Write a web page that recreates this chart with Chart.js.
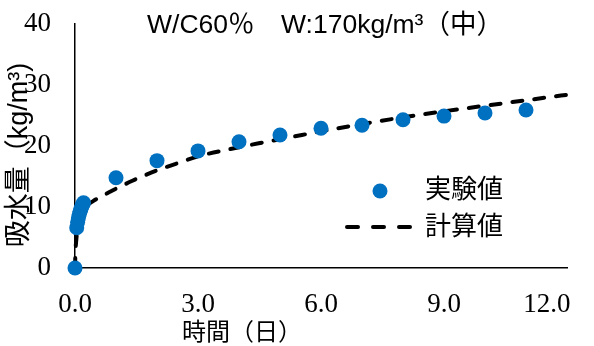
<!DOCTYPE html>
<html><head><meta charset="utf-8">
<script src="https://cdn.jsdelivr.net/npm/chart.js@4/dist/chart.umd.min.js"></script>
<style>html,body{margin:0;padding:0;background:#fff;} #wrap{width:594px;height:346px;}</style>
</head><body><div id="wrap"><canvas id="c" width="594" height="346"></canvas></div>
<script>
const chartTitle = 'W/C60％　W:170kg/m³（中）';
const xAxisTitle = '時間（日）';
const yAxisTitle = '吸水量（kg/m³)';
const seriesNames = ['実験値', '計算値'];
const xTicks = [0, 3, 6, 9, 12];
const yTicks = [0, 10, 20, 30, 40];
const expDays   = [0, 0.042, 0.063, 0.083, 0.104, 0.125, 0.146, 0.167, 0.188, 0.208, 1, 2, 3, 4, 5, 6, 7, 8, 9, 10, 11];
const expValues = [0, 6.6, 7.5, 8.2, 8.8, 9.3, 9.7, 10.1, 10.4, 10.7, 14.8, 17.6, 19.2, 20.7, 21.8, 22.9, 23.4, 24.3, 24.9, 25.4, 25.9];
const calcDays   = [0, 0.01, 0.03, 0.06, 0.1, 0.15, 0.2, 0.3, 0.45, 0.6, 0.8, 1, 1.4, 2, 2.6, 3, 4, 4.6, 5.3, 6, 7, 8, 8.8, 10, 11, 12];
const calcValues = [0, 2.5, 4.5, 6.3, 7.8, 8.8, 9.5, 10.3, 11.0, 11.6, 12.3, 13.0, 14.3, 16.0, 17.4, 18.3, 19.8, 20.6, 21.5, 22.4, 23.6, 24.7, 25.5, 26.6, 27.5, 28.4];

const BLUE = '#0070C0';
const SERIF = '"Liberation Serif", "Times New Roman", serif';
const CJK = '"Liberation Sans", "Noto Sans CJK JP", sans-serif';

const textPlugin = {
  id: 'texts',
  afterDraw(chart) {
    const ctx = chart.ctx;
    ctx.save();
    ctx.fillStyle = '#000';
    ctx.font = '26.5px ' + CJK;
    ctx.textAlign = 'center';
    ctx.textBaseline = 'alphabetic';
    ctx.fillText(chartTitle, 325, 33);
    ctx.font = '24px ' + CJK;
    ctx.textBaseline = 'middle';
    ctx.fillText(xAxisTitle, 242, 333);
    ctx.save();
    ctx.translate(20, 155);
    ctx.rotate(-Math.PI / 2);
    ctx.font = '27px ' + CJK;
    ctx.fillText(yAxisTitle, 0, 0);
    ctx.restore();
    ctx.beginPath();
    ctx.arc(380, 191, 7.5, 0, Math.PI * 2);
    ctx.fillStyle = BLUE;
    ctx.fill();
    ctx.beginPath();
    ctx.setLineDash([11, 15]);
    ctx.lineCap = 'round';
    ctx.lineWidth = 4;
    ctx.strokeStyle = '#000';
    ctx.moveTo(347, 227);
    ctx.lineTo(414, 227);
    ctx.stroke();
    ctx.setLineDash([]);
    ctx.fillStyle = '#000';
    ctx.font = '26px ' + CJK;
    ctx.textAlign = 'left';
    ctx.textBaseline = 'middle';
    ctx.fillText(seriesNames[0], 425, 191);
    ctx.fillText(seriesNames[1], 425, 228);
    ctx.restore();
  }
};

function zeroPad(s) { s.paddingTop = 0; s.paddingBottom = 0; s.paddingLeft = 0; s.paddingRight = 0; }

new Chart(document.getElementById('c'), {
  type: 'scatter',
  data: {
    datasets: [
      {
        label: seriesNames[0],
        data: expDays.map((d, i) => ({ x: d, y: expValues[i] })),
        pointRadius: 7.5,
        pointBorderWidth: 0,
        pointBackgroundColor: BLUE,
        pointBorderColor: BLUE,
        showLine: false,
        clip: false
      },
      {
        label: seriesNames[1],
        data: calcDays.map((d, i) => ({ x: d, y: calcValues[i] })),
        showLine: true,
        pointRadius: 0,
        borderColor: '#000',
        borderWidth: 4,
        borderDash: [10, 12],
        borderCapStyle: 'round',
        cubicInterpolationMode: 'monotone',
        clip: false
      }
    ]
  },
  options: {
    responsive: false,
    devicePixelRatio: 1,
    animation: false,
    layout: { padding: { top: 24, right: 27, left: 0, bottom: 0 } },
    plugins: { legend: { display: false }, tooltip: { enabled: false }, title: { display: false } },
    scales: {
      x: {
        type: 'linear', min: 0, max: 12,
        afterBuildTicks: s => { s.ticks = xTicks.map(v => ({ value: v })); },
        afterFit: s => { s.height = 78; zeroPad(s); },
        grid: { display: false, drawTicks: false },
        border: { display: true, color: '#000', width: 1.5 },
        ticks: {
          font: { family: SERIF, size: 27 }, color: '#000', padding: 21,
          maxRotation: 0, autoSkip: false,
          callback: v => v === xTicks[xTicks.length - 1] ? v.toFixed(1) + '      ' : v.toFixed(1)
        }
      },
      y: {
        type: 'linear', min: 0, max: 40,
        afterBuildTicks: s => { s.ticks = yTicks.map(v => ({ value: v })); },
        afterFit: s => { s.width = 75; zeroPad(s); },
        grid: { display: false, drawTicks: false },
        border: { display: true, color: '#000', width: 1.5 },
        ticks: { font: { family: SERIF, size: 27 }, color: '#000', padding: 24 }
      }
    }
  },
  plugins: [textPlugin]
});
</script></body></html>
